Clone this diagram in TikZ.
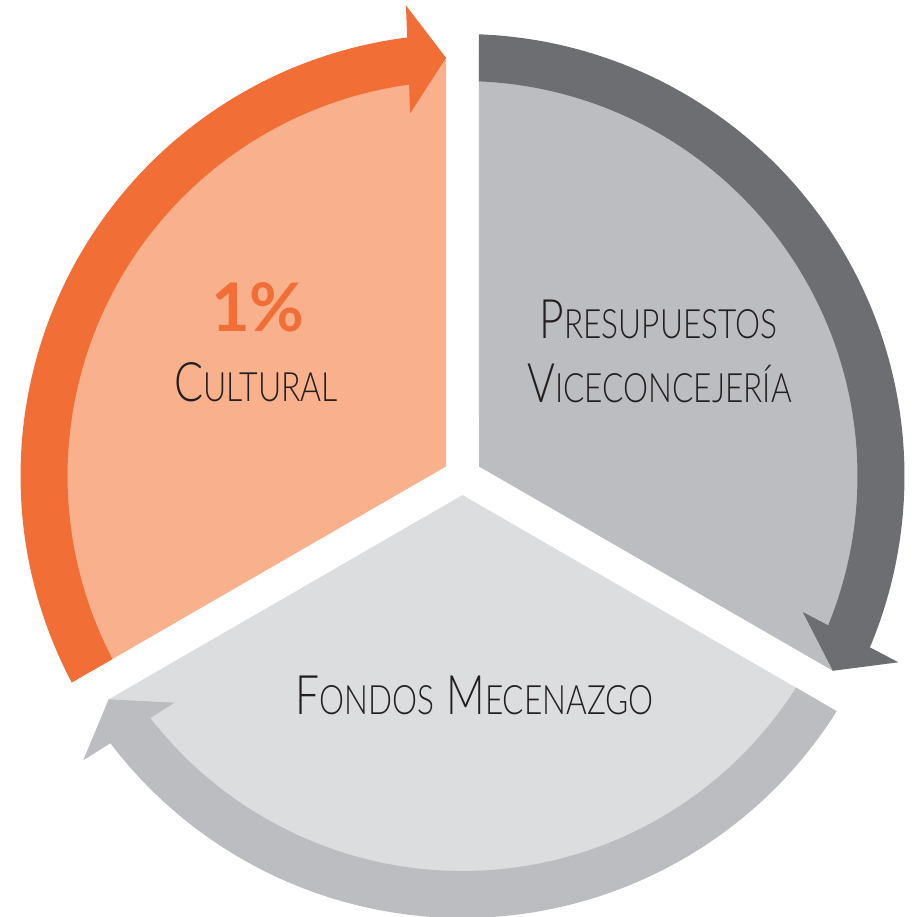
\documentclass[tikz,border=0pt]{standalone}
\usepackage{graphicx}
\usepackage{fontspec}
\setmainfont{Lato}
\newfontfamily\lightfont{Lato Light}
\usetikzlibrary{calc}
\definecolor{ringorange}{HTML}{F26E37}
\definecolor{fillorange}{HTML}{F9B08C}
\definecolor{ringdark}{HTML}{6D6E72}
\definecolor{fillmid}{HTML}{BCBDC1}
\definecolor{filllight}{HTML}{DCDDDF}
\definecolor{textdark}{HTML}{231F20}
\newcommand\fakesc[2]{{\fontsize{54.5}{54.5}\selectfont #1}{\fontsize{40.5}{40.5}\selectfont #2}}
\tikzset{
  label text/.style={anchor=base, inner sep=0pt, text=textdark, font=\lightfont},
}
\begin{document}
\begin{tikzpicture}[x=1pt,y=1pt]
\useasboundingbox (-462.5,-441) rectangle (449.5,476);
\pgfmathsetmacro\g{16.5}
\pgfmathsetmacro\R{418.5}
\pgfmathsetmacro\Ri{395}
\pgfmathsetmacro\Ro{442}
\pgfmathsetmacro\dR{asin(\g/\R)}
\pgfmathsetmacro\dRi{asin(\g/\Ri)}
\pgfmathsetmacro\dRo{asin(\g/\Ro)}
\pgfmathsetmacro\cg{\g/sin(60)}
\newcommand\pieslice[2]{%
  \pgfmathsetmacro\pa{#1+\dR}%
  \pgfmathsetmacro\pb{#1+120-\dR}%
  \pgfmathsetmacro\pc{#1+60}%
  \fill[#2] (\pc:\cg) -- (\pa:\R) arc[start angle=\pa, end angle=\pb, radius=\R] -- cycle;}
\newcommand\ringarrow[2]{%
  \pgfmathsetmacro\so{#1+120-\dRo}%
  \pgfmathsetmacro\si{#1+120-\dRi}%
  \pgfmathsetmacro\ee{#1+\dR+4}%
  \pgfmathsetmacro\ta{#1+\dR}%
  \pgfmathsetmacro\tb{#1+\dR+90}%
  \pgfmathsetmacro\tc{#1+\dR+180}%
  \fill[#2] (\so:\Ro) arc[start angle=\so, end angle=\ee, radius=\Ro]
     -- (\ee:\Ri) arc[start angle=\ee, end angle=\si, radius=\Ri] -- cycle;
  \coordinate (T) at (\ta:\R);
  \coordinate (B) at ($(T)+(\tb:38)$);
  \fill[#2] (T) -- ($(B)+(\ta:54)$) -- ($(B)+(\tc:54)$) -- cycle;}
% sectors
\pieslice{90}{fillorange}
\pieslice{210}{filllight}
\pieslice{-30}{fillmid}
% arrows
\ringarrow{90}{ringorange}
\ringarrow{-30}{ringdark}
\ringarrow{210}{fillmid}
% texts
\node[anchor=base, inner sep=0pt, text=ringorange, font=\bfseries] (pct) at (-204.5,144)
  {\fontsize{67}{67}\selectfont 1\%};
\node[label text] (cultural) at (-206.5,74) {\scalebox{0.79}[1]{\fakesc{C}{ULTURAL}}};
\node[label text] (presup) at (196,137) {\scalebox{0.78}[1]{\fakesc{P}{RESUPUESTOS}}};
\node[label text] (vice) at (197,73) {\scalebox{0.78}[1]{\fakesc{V}{ICECONCEJERÍA}}};
\node[label text] (fondos) at (12,-238) {\scalebox{0.78}[1]{\fakesc{F}{ONDOS}\hspace{16pt}\fakesc{M}{ECENAZGO}}};
\end{tikzpicture}
\end{document}
